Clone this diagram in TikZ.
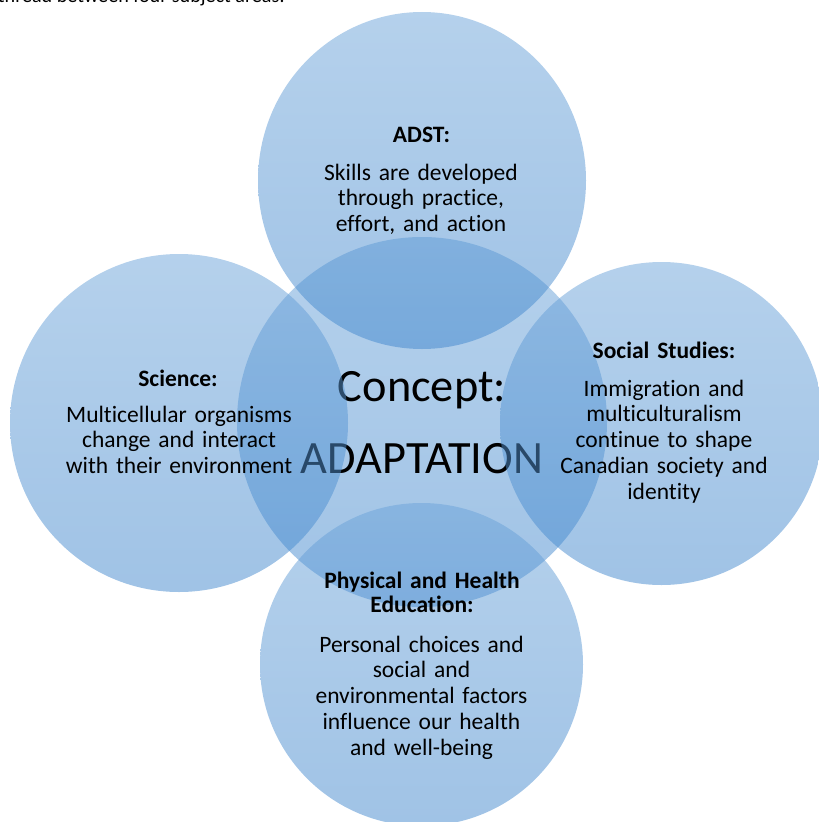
\documentclass[tikz,border=0pt]{standalone}
\usepackage{fontspec}
\setmainfont{Carlito}[Ligatures=NoCommon]
\definecolor{circtop}{RGB}{107,163,217}
\definecolor{circbot}{RGB}{65,135,205}
\begin{document}
\begin{tikzpicture}[x=1bp,y=-1bp,
  bubble/.style={top color=circtop, bottom color=circbot, fill opacity=0.5, draw=none},
  bodytxt/.style={font=\fontsize{23.6}{26}\selectfont, text width=320bp, align=center, anchor=base, inner sep=0pt, text=black},
  headtxt/.style={bodytxt, font=\bfseries\fontsize{23.6}{25}\selectfont},
  bigtxt/.style={font=\fontsize{46.5}{50}\selectfont, anchor=base, inner sep=0pt, text=black}]
\useasboundingbox (0,0) rectangle (819,822);
\clip (0,0) rectangle (819,822);
% cut-off caption line at the top
\node[font=\fontsize{20.2}{24}\selectfont, anchor=base east, inner sep=0pt] (caption) at (285,2.5) {thread between four subject areas:};
% central circle and its text (lies under the outer circles)
\shade[bubble] (422,422) circle[radius=185];
\node[bigtxt] (concept) at (422,401) {Concept:};
\node[bigtxt] (adapt) at (422,473) {ADAPTATION};
% outer circles
\shade[bubble] (422,180.5) ellipse[x radius=164, y radius=168.5];
\shade[bubble] (179,423) circle[radius=169];
\shade[bubble] (661.5,423.5) circle[radius=161.5];
\shade[bubble] (421.5,664.5) circle[radius=161.5];
% top: ADST
\node[headtxt] (adsth) at (421.5,142) {ADST:};
\node[bodytxt] (adstb) at (421,180) {Skills are developed\\through practice,\\effort, and action};
% left: Science
\node[headtxt] (scih) at (178,386) {Science:};
\node[bodytxt] (scib) at (179,422) {Multicellular organisms\\change and interact\\with their environment};
% right: Social Studies
\node[headtxt] (soch) at (664,358) {Social Studies:};
\node[bodytxt] (socb) at (664,396) {Immigration and\\multiculturalism\\continue to shape\\Canadian society and\\identity};
% bottom: Physical and Health Education
\node[headtxt] (pheh) at (422,588) {Physical and Health\\Education:};
\node[bodytxt] (pheb) at (421.5,652) {Personal choices and\\social and\\environmental factors\\influence our health\\and well-being};
\end{tikzpicture}
\end{document}
